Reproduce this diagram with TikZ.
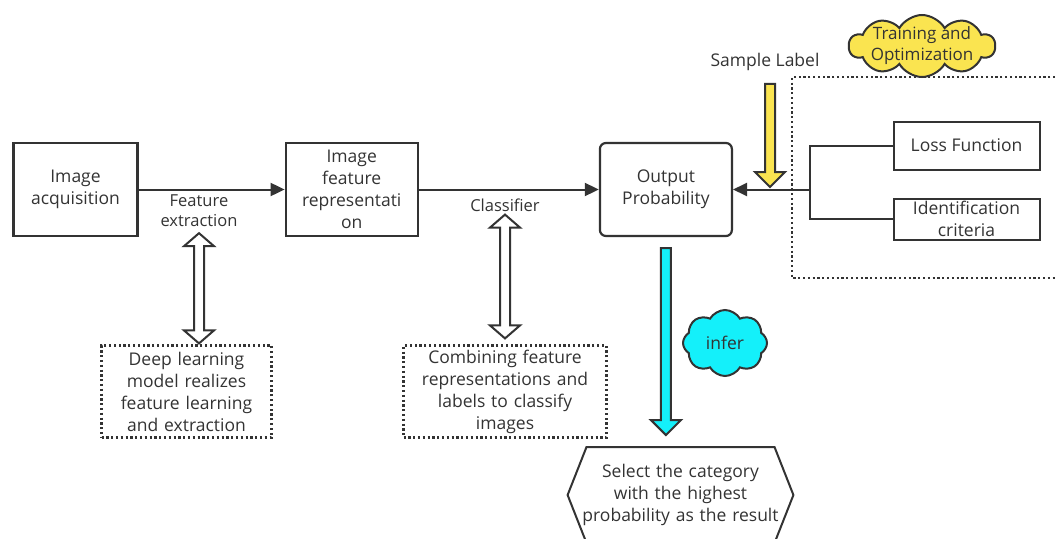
\documentclass[tikz,border=0pt]{standalone}
\usepackage{fontspec}
\setmainfont{Open Sans}
\usetikzlibrary{arrows.meta,positioning,shapes.symbols,calc}
\definecolor{ink}{RGB}{51,51,51}
\definecolor{cloudyel}{RGB}{250,228,80}
\definecolor{infercyan}{RGB}{20,240,250}

% hollow block arrows (pixel units, x taken from the first point)
\newcommand{\blockdown}[3]{%
  \draw[blk, fill=#1] let \p1=#2, \p2=#3 in
    (\x1-5pt,\y1) -- (\x1+5pt,\y1) -- (\x1+5pt,\y2+15pt) -- (\x1+15pt,\y2+15pt)
    -- (\x1,\y2) -- (\x1-15pt,\y2+15pt) -- (\x1-5pt,\y2+15pt) -- cycle;}
\newcommand{\blockboth}[2]{%
  \draw[blk, fill=white] let \p1=#1, \p2=#2 in
    (\x1,\y1) -- (\x1+15pt,\y1-13pt) -- (\x1+5pt,\y1-13pt) -- (\x1+5pt,\y2+13pt)
    -- (\x1+15pt,\y2+13pt) -- (\x1,\y2) -- (\x1-15pt,\y2+13pt) -- (\x1-5pt,\y2+13pt)
    -- (\x1-5pt,\y1-13pt) -- (\x1-15pt,\y1-13pt) -- cycle;}

\begin{document}
\begin{tikzpicture}[x=1pt, y=-1pt,
    font=\fontsize{17.5}{22}\selectfont, text=ink,
    box/.style={draw=ink, line width=2.2pt, minimum width=124pt, minimum height=93pt,
                align=center, inner sep=1pt},
    note/.style={draw=ink, line width=2.2pt, dash pattern=on 2.2pt off 2.6pt,
                 minimum height=92pt, align=center, inner sep=1pt},
    side/.style={draw=ink, line width=2pt, minimum width=146pt, align=center, inner sep=1pt},
    lbl/.style={font=\fontsize{16.5}{20}\selectfont, align=center, inner sep=1pt},
    arr/.style={-{Triangle[length=14pt,width=13pt]}, draw=ink, line width=2pt},
    link/.style={draw=ink, line width=2pt},
    blk/.style={draw=ink, line width=2pt, line join=miter},
    puff/.style={cloud, cloud ignores aspect, cloud puff arc=120, draw=ink, line width=2pt}
]
\useasboundingbox (0,0) rectangle (1056,538);
\clip (0,0) rectangle (1056,538);

% main chain
\node[box] (acq) at (75.5,189.5) {Image\\acquisition};
\node[box, minimum width=132pt, right=146pt of acq] (feat) {Image\\feature\\representati\\on};
\node[box, minimum width=132pt, rounded corners=6pt, right=180pt of feat] (prob) {Output\\Probability};
\draw[arr] (acq) -- (feat);
\draw[arr] (feat) -- (prob);
\node[lbl] (fext) at (199,211) {Feature\\extraction};
\node[lbl] (clsf) at (505,205) {Classifier};

% notes below
\node[note, minimum width=170pt, text width=162pt] (dlm) at (186.5,391.5)
  {Deep learning\\model realizes\\feature learning\\and extraction};
\node[note, minimum width=203pt, text width=197pt] (comb) at (505,391.5)
  {Combining feature\\representations and\\labels to classify\\images};
\blockboth{($(fext.south)+(0,5)$)}{($(dlm.north)+(0,-1)$)}
\blockboth{($(clsf.south)+(0,2)$)}{($(comb.north)+(0,-6)$)}

% training and optimization
\draw[link, dash pattern=on 2.2pt off 2.6pt, line width=2.2pt]
  (1060,77) -- (792,77) -- (792,278) -- (1060,278);
\node[side, minimum height=48pt] (loss) at (966.5,145.5) {Loss Function};
\node[side, minimum height=41pt] (ident) at (966.5,219) {Identification\\criteria};
\coordinate (jn) at (810,189.5);
\draw[link] (loss.west) -| (jn) |- (ident.west);
\draw[arr] (jn) -- (prob.east);
\node[puff, cloud puffs=10, fill=cloudyel, minimum width=146pt, minimum height=62pt,
      label={[lbl, font=\fontsize{17}{21}\selectfont]center:Training and\\Optimization}] (train) at (922,46) {};
\node[lbl, font=\fontsize{17.5}{22}\selectfont] (samp) at (765,62) {Sample Label};
\coordinate (tap) at (770,187);
\blockdown{cloudyel}{($(tap|-samp.south)+(0,12)$)}{(tap)}

% inference
\node[draw=ink, line width=2pt, signal, signal to=east and west, signal pointer angle=137,
      minimum width=190pt, minimum height=96pt, text width=204pt, align=center,
      inner ysep=1pt, inner xsep=-8pt]
  (sel) at (680.5,495) {Select the category\\with the highest\\probability as the result};
\blockdown{infercyan}{($(prob.south)+(0,11)$)}{($(prob.south|-sel.north)+(0,-11)$)}
\node[puff, cloud puffs=8, fill=infercyan, minimum width=84pt, minimum height=66pt] (infer) at (725,343) {infer};
\end{tikzpicture}
\end{document}
